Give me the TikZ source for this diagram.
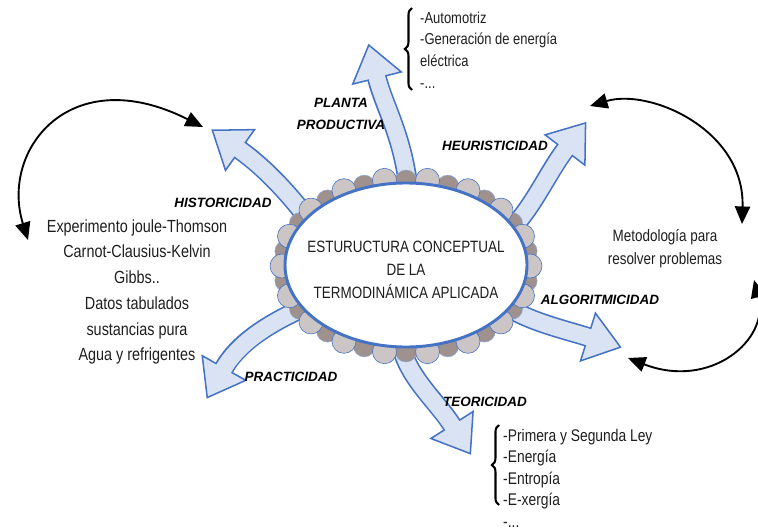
\documentclass[tikz,border=0pt]{standalone}
\usepackage{fontspec}
\setmainfont{Liberation Sans}
\newfontfamily\narrow{Liberation Sans}[FakeStretch=0.82]
\usetikzlibrary{arrows.meta, calc, decorations.pathreplacing}
\definecolor{azul}{RGB}{68,114,196}
\definecolor{celeste}{RGB}{218,227,243}
\definecolor{claro}{RGB}{203,197,197}
\definecolor{oscuro}{RGB}{158,145,142}
\definecolor{tinta}{RGB}{30,30,30}

% flecha de bloque: inicio, control 1, control 2, base de la punta
\newcommand{\flecha}[4]{%
  \draw[line width=17pt, azul] #1 .. controls #2 and #3 .. #4;
  \draw[azul, fill=celeste, line width=1.3pt, line join=miter]
    ($#4!0.75cm!90:#3$) -- ($#4!1.02cm!180:#3$) -- ($#4!0.75cm!-90:#3$) -- cycle;
  \draw[line width=14.2pt, celeste] #1 .. controls #2 and #3 .. ($#4!0.06cm!180:#3$);
}

\begin{document}
\begin{tikzpicture}[x=0.03cm, y=-0.03cm]
    \tikzstyle{rotulo}=[font=\fontsize{11.5}{18.5}\selectfont\bfseries\itshape, align=center, inner sep=0pt]
    \tikzstyle{texto}=[font=\narrow\fontsize{15}{22}\selectfont, text=tinta, align=center, inner sep=0pt]
    \tikzstyle{lista}=[text=tinta, align=left, anchor=west, inner sep=0pt]
    \tikzstyle{ciclo}=[line width=1.6pt, {Triangle[length=15pt,width=13pt]}-{Triangle[length=15pt,width=13pt]}]
    \tikzstyle{llave}=[line width=1.8pt, decorate, decoration={brace, amplitude=6pt}]

    \useasboundingbox (0,0) rectangle (758,529);

    % flechas gruesas
    \flecha{(410,205)}{(406,140)}{(385,110)}{(377,78)}
    \flecha{(500,240)}{(530,215)}{(546,175)}{(565,150)}
    \flecha{(490,295)}{(520,320)}{(556,327)}{(588,337)}
    \flecha{(400,340)}{(405,375)}{(436,400)}{(452,425)}
    \flecha{(310,305)}{(280,318)}{(241,338)}{(224,368)}
    \flecha{(320,235)}{(295,200)}{(268,170)}{(240,150)}

    % borde festoneado
    \foreach \a in {10,30,...,350}
        \filldraw[fill=oscuro, draw=azul!60, line width=0.4pt] ($(406,266)+(\a:122 and 85)$) circle (0.33cm);
    \foreach \a in {0,20,...,340}
        \filldraw[fill=claro, draw=azul, line width=0.5pt] ($(406,266)+(\a:124 and 87)$) circle (0.36cm);

    \draw[azul, line width=2.5pt, fill=white] (406,265) ellipse [x radius=3.63cm, y radius=2.46cm];
    \node[align=center, text=tinta, font=\narrow\fontsize{14}{19.5}\selectfont] (nucleo) at (406,270)
          {ESTURUCTURA CONCEPTUAL\\DE LA\\TERMODINÁMICA APLICADA};

    \node[rotulo] (plan) at (341,114) {PLANTA\\PRODUCTIVA};
    \node[rotulo] (heur) at (495,146) {HEURISTICIDAD};
    \node[rotulo] (hist) at (223,203) {HISTORICIDAD};
    \node[rotulo] (algo) at (600,300) {ALGORITMICIDAD};
    \node[rotulo] (prac) at (291,377) {PRACTICIDAD};
    \node[rotulo] (teor) at (485,402) {TEORICIDAD};

    \node[texto] (datos) at (137,292) {Experimento joule-Thomson\\Carnot-Clausius-Kelvin\\Gibbs..\\Datos tabulados\\sustancias pura\\Agua y refrigentes};
    \node[texto, font=\narrow\fontsize{14}{19.5}\selectfont] (metodo) at (665,249) {Metodología para\\resolver problemas};
    \node[lista, font=\narrow\fontsize{13.5}{18.4}\selectfont] (usos) at (420,50) {-Automotriz\\-Generación de energía\\eléctrica\\-...};
    \node[lista, font=\narrow\fontsize{14.4}{18.3}\selectfont] (leyes) at (503,478) {-Primera y Segunda Ley\\-Energía\\-Entropía\\-E-xergía\\-...};

    \draw[llave] (412,90) -- (412,8);
    \draw[llave] (499,505) -- (499,425);

    % ciclos
    \coordinate (h1) at (203,127);
    \coordinate (h2) at (28,240);
    \draw[ciclo] (h1) .. controls (70,60) and (0,150) .. (h2);
    \coordinate (m1) at (590,106);
    \coordinate (m2) at (742,224);
    \draw[ciclo] (m1) .. controls (650,88) and (745,130) .. (m2);
    \coordinate (m3) at (754,280);
    \coordinate (m4) at (628,358);
    \draw[ciclo] (m3) .. controls (770,340) and (710,390) .. (m4);
\end{tikzpicture}
\end{document}
